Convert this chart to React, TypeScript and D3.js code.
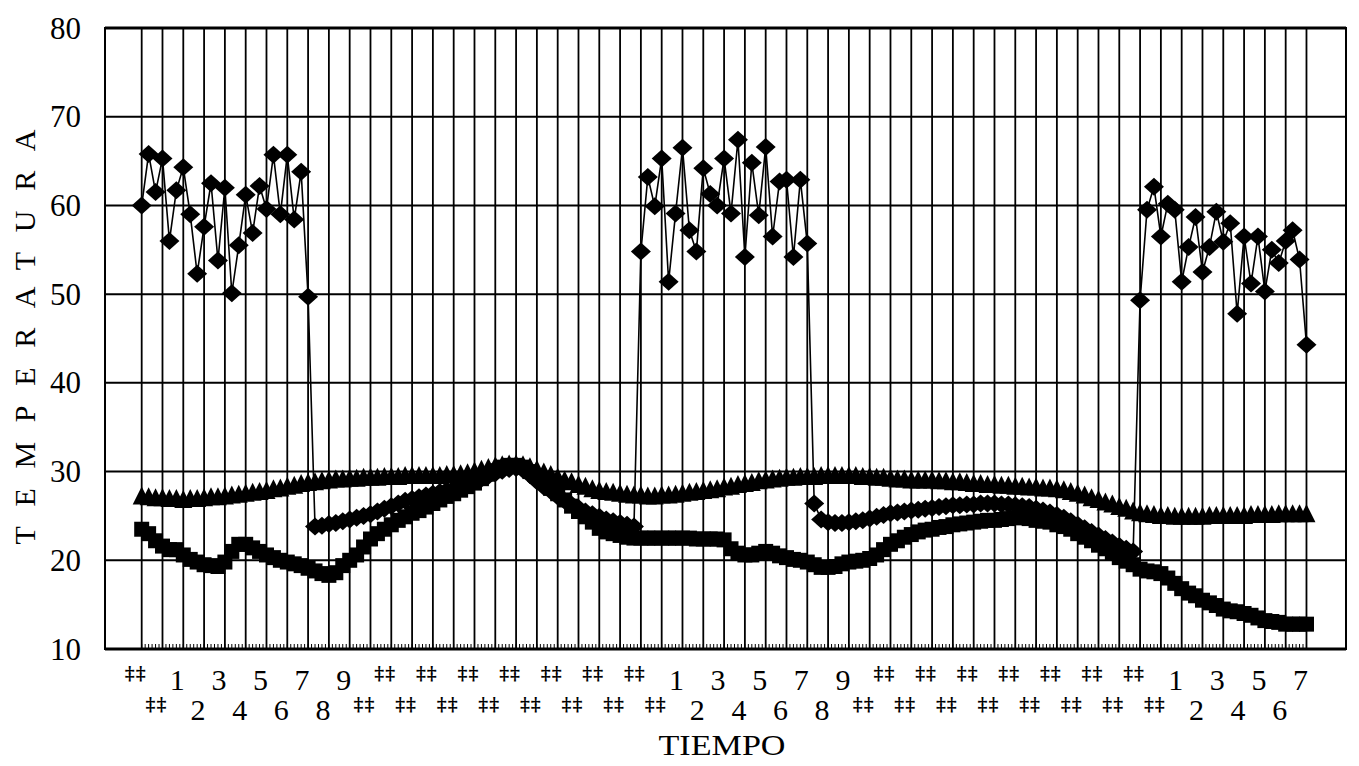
import React, { useEffect } from "react";
import * as d3 from "d3";

// ---- DATA ----
// x categories: hourly tick labels (two-digit hours render as "‡‡" in the original)
const tickLabels: string[] = [
  "‡‡", "‡‡", "1", "2", "3", "4", "5", "6", "7", "8", "9",
  "‡‡", "‡‡", "‡‡", "‡‡", "‡‡", "‡‡", "‡‡", "‡‡", "‡‡", "‡‡", "‡‡", "‡‡", "‡‡", "‡‡", "‡‡",
  "1", "2", "3", "4", "5", "6", "7", "8", "9",
  "‡‡", "‡‡", "‡‡", "‡‡", "‡‡", "‡‡", "‡‡", "‡‡", "‡‡", "‡‡", "‡‡", "‡‡", "‡‡", "‡‡", "‡‡",
  "1", "2", "3", "4", "5", "6", "7",
];
const yTicks: number[] = [10, 20, 30, 40, 50, 60, 70, 80];
const samplesPerHour = 3;

// Series A (diamonds)
const seriesA: number[] = [
  60, 65.8, 61.5, 65.3, 56, 61.7, 64.3, 59, 52.3, 57.6, 62.5, 53.8,
  62, 50.1, 55.5, 61.2, 56.9, 62.2, 59.6, 65.7, 59, 65.7, 58.4, 63.8,
  49.7, 23.8, 23.9, 24.1, 24.2, 24.4, 24.6, 24.8, 25, 25.2, 25.5, 25.8,
  26.1, 26.4, 26.7, 26.9, 27.1, 27.3, 27.5, 27.7, 27.9, 28.1, 28.3, 28.6,
  28.9, 29.2, 29.5, 29.8, 30.1, 30.3, 30.4, 30.2, 29.6, 28.9, 28.3, 27.8,
  27.2, 26.7, 26.3, 25.9, 25.5, 25.2, 24.9, 24.6, 24.4, 24.2, 24, 23.8,
  54.8, 63.2, 59.9, 65.3, 51.4, 59.1, 66.5, 57.2, 54.8, 64.2, 61.3, 60,
  65.3, 59.1, 67.4, 54.2, 64.8, 58.9, 66.6, 56.5, 62.7, 62.9, 54.2, 62.9,
  55.7, 26.4, 24.6, 24.3, 24.2, 24.2, 24.3, 24.4, 24.5, 24.7, 24.9, 25.1,
  25.3, 25.4, 25.5, 25.6, 25.7, 25.8, 25.9, 26, 26.1, 26.2, 26.2, 26.3,
  26.3, 26.4, 26.4, 26.4, 26.3, 26.3, 26.2, 26.1, 26, 25.8, 25.6, 25.4,
  25.1, 24.8, 24.4, 24, 23.6, 23.2, 22.8, 22.4, 22, 21.6, 21.3, 21,
  49.3, 59.5, 62.1, 56.5, 60.2, 59.5, 51.4, 55.3, 58.7, 52.5, 55.3, 59.3,
  55.9, 58, 47.8, 56.5, 51.2, 56.5, 50.3, 55, 53.5, 56, 57.2, 53.9,
  44.3,
];

// Series B (triangles, upper band)
const seriesB: number[] = [
  27.2, 27.1, 27.0, 27.0, 26.9, 26.9, 26.8, 26.9, 26.9, 27.0, 27.1, 27.1,
  27.2, 27.3, 27.4, 27.5, 27.6, 27.7, 27.8, 28.0, 28.1, 28.3, 28.4, 28.6,
  28.7, 28.8, 28.9, 29.0, 29.1, 29.1, 29.2, 29.2, 29.3, 29.3, 29.3, 29.4,
  29.4, 29.4, 29.5, 29.5, 29.5, 29.5, 29.5, 29.5, 29.6, 29.6, 29.7, 29.8,
  30.0, 30.2, 30.4, 30.6, 30.7, 30.8, 30.8, 30.7, 30.5, 30.2, 29.9, 29.6,
  29.3, 29.0, 28.8, 28.5, 28.3, 28.0, 27.8, 27.7, 27.6, 27.5, 27.4, 27.3,
  27.3, 27.2, 27.2, 27.3, 27.3, 27.4, 27.5, 27.6, 27.7, 27.8, 27.9, 28.0,
  28.2, 28.3, 28.5, 28.6, 28.7, 28.9, 29.0, 29.1, 29.2, 29.3, 29.3, 29.4,
  29.4, 29.4, 29.5, 29.5, 29.5, 29.5, 29.5, 29.5, 29.4, 29.4, 29.3, 29.3,
  29.2, 29.1, 29.1, 29.0, 29.0, 29.0, 29.0, 28.9, 28.9, 28.8, 28.8, 28.7,
  28.6, 28.6, 28.5, 28.5, 28.4, 28.4, 28.3, 28.3, 28.2, 28.2, 28.1, 28.1,
  28.0, 27.9, 27.7, 27.5, 27.3, 27.0, 26.8, 26.5, 26.3, 26.0, 25.8, 25.5,
  25.3, 25.2, 25.1, 25.0, 25.0, 24.9, 24.9, 24.9, 24.9, 24.9, 25.0, 25.0,
  25.0, 25.0, 25.0, 25.0, 25.1, 25.1, 25.1, 25.1, 25.2, 25.2, 25.2, 25.2,
  25.2,
];

// Series C (squares, lower band)
const seriesC: number[] = [
  23.5, 23.0, 22.2, 21.6, 21.2, 21.2, 20.6, 20.1, 19.8, 19.5, 19.4, 19.3,
  19.8, 21.0, 21.8, 21.8, 21.4, 21.0, 20.6, 20.3, 20.0, 19.8, 19.6, 19.4,
  19.1, 18.8, 18.5, 18.3, 18.6, 19.4, 20.0, 20.6, 21.5, 22.4, 23.0, 23.5,
  24.0, 24.5, 24.9, 25.3, 25.6, 26.0, 26.4, 26.8, 27.2, 27.5, 27.9, 28.3,
  28.7, 29.2, 29.7, 30.1, 30.5, 30.7, 30.7, 30.5, 30.0, 29.5, 28.8, 28.1,
  27.5, 26.8, 26.1, 25.5, 24.9, 24.3, 23.6, 23.2, 23.0, 22.8, 22.6, 22.5,
  22.5, 22.5, 22.5, 22.5, 22.5, 22.5, 22.5, 22.5, 22.4, 22.4, 22.4, 22.4,
  22.3, 21.3, 20.8, 20.6, 20.6, 20.8, 21.0, 20.8, 20.5, 20.3, 20.1, 20.0,
  19.8, 19.5, 19.2, 19.2, 19.3, 19.6, 19.8, 19.9, 20.0, 20.2, 20.6, 21.2,
  21.8, 22.2, 22.6, 22.9, 23.2, 23.4, 23.5, 23.7, 23.8, 24.0, 24.1, 24.2,
  24.3, 24.4, 24.5, 24.5, 24.6, 24.7, 24.8, 24.8, 24.7, 24.5, 24.4, 24.3,
  24.0, 23.8, 23.5, 23.0, 22.6, 22.2, 21.7, 21.3, 20.8, 20.3, 19.9, 19.5,
  19.0, 18.8, 18.7, 18.5, 18.0, 17.4, 16.8, 16.3, 16.0, 15.5, 15.2, 14.9,
  14.5, 14.3, 14.2, 14.0, 13.8, 13.5, 13.2, 13.1, 13.0, 12.8, 12.8, 12.8,
  12.8,
];

// ---- LAYOUT ----
const W = 1359;
const H = 766;
const PL = 105, PR = 1346, PT = 28, PB = 649;
const FONT = "'Liberation Serif', 'Times New Roman', serif";
const HASH_FONT = "'DejaVu Serif', 'Liberation Serif', serif";
const INK = "#000";

export default function App() {
  useEffect(() => {
    document.body.style.margin = "0";
    document.body.style.background = "#fff";
  }, []);

  const x = d3.scaleLinear().domain([-1.764, 57.9]).range([PL, PR]);
  const y = d3.scaleLinear().domain([10, 80]).range([PB, PT]);

  const toPts = (arr: number[]) => arr.map((v, i) => ({ t: i / samplesPerHour, v }));
  const A = toPts(seriesA);
  const B = toPts(seriesB);
  const C = toPts(seriesC);

  const line = d3
    .line<{ t: number; v: number }>()
    .x((d) => x(d.t))
    .y((d) => y(d.v));

  const diamond = "M0,-9L10,0L0,9L-10,0Z";
  const square = "M-7.5,-7.5H7.5V7.5H-7.5Z";
  const triangle = "M0,-10L9,8H-9Z";

  const minorTicks = d3.range(0, 56.0001, 1 / 6);

  return (
    <svg
      width={W}
      height={H}
      viewBox={`0 0 ${W} ${H}`}
      style={{ position: "absolute", left: 0, top: 0, background: "#fff" }}
    >
      <rect x={0} y={0} width={W} height={H} fill="#fff" />

      {/* horizontal gridlines */}
      {yTicks.map((v) => (
        <line key={"h" + v} x1={PL} x2={PR} y1={y(v)} y2={y(v)} stroke={INK} strokeWidth={2} />
      ))}
      {/* vertical gridlines */}
      {tickLabels.map((_, k) => (
        <line key={"v" + k} x1={x(k)} x2={x(k)} y1={PT} y2={PB} stroke={INK} strokeWidth={1.8} />
      ))}
      {/* minor ticks along bottom */}
      {minorTicks.map((t, k) => (
        <line key={"m" + k} x1={x(t)} x2={x(t)} y1={PB} y2={PB - 5} stroke={INK} strokeWidth={1} />
      ))}
      {/* plot border */}
      <rect x={PL} y={PT} width={PR - PL} height={PB - PT} fill="none" stroke={INK} strokeWidth={2} />
      <line x1={PL} x2={PR} y1={PT} y2={PT} stroke={INK} strokeWidth={3} />
      <line x1={PL} x2={PR} y1={PB} y2={PB} stroke={INK} strokeWidth={3} />

      {/* series lines */}
      <path d={line(B) || ""} fill="none" stroke={INK} strokeWidth={1.2} />
      <path d={line(C) || ""} fill="none" stroke={INK} strokeWidth={1.2} />
      <path d={line(A) || ""} fill="none" stroke={INK} strokeWidth={1.6} />

      {/* markers */}
      {B.map((d, i) => (
        <path key={"b" + i} d={triangle} transform={`translate(${x(d.t)},${y(d.v)})`} fill={INK} />
      ))}
      {C.map((d, i) => (
        <path key={"c" + i} d={square} transform={`translate(${x(d.t)},${y(d.v)})`} fill={INK} />
      ))}
      {A.map((d, i) => (
        <path key={"a" + i} d={diamond} transform={`translate(${x(d.t)},${y(d.v)})`} fill={INK} />
      ))}

      {/* y tick labels */}
      {yTicks.map((v) => (
        <text
          key={"yl" + v}
          x={81}
          y={y(v) + 10.5}
          textAnchor="end"
          fontFamily={FONT}
          fontSize={31}
          fill={INK}
        >
          {v}
        </text>
      ))}

      {/* x tick labels, alternating rows */}
      {tickLabels.map((s, k) => {
        const row = k % 2;
        const isHash = s === "‡‡";
        const baseline = isHash ? (row === 0 ? 680 : 711) : row === 0 ? 690 : 720;
        return (
          <text
            key={"xl" + k}
            x={x(k) - 6}
            y={baseline}
            textAnchor="middle"
            fontFamily={isHash ? HASH_FONT : FONT}
            fontSize={isHash ? 19 : 30}
            fontWeight={isHash ? 700 : 400}
            letterSpacing={isHash ? 1 : 0}
            fill={INK}
          >
            {s}
          </text>
        );
      })}

      {/* axis titles */}
      <text
        x={722}
        y={755}
        textAnchor="middle"
        fontFamily={FONT}
        fontSize={29}
        textLength={127}
        lengthAdjust="spacingAndGlyphs"
        fill={INK}
      >
        TIEMPO
      </text>
      <text
        transform="translate(35,337) rotate(-90)"
        textAnchor="middle"
        fontFamily={FONT}
        fontSize={30}
        textLength={415}
        lengthAdjust="spacing"
        fill={INK}
      >
        TEMPERATURA
      </text>
    </svg>
  );
}
